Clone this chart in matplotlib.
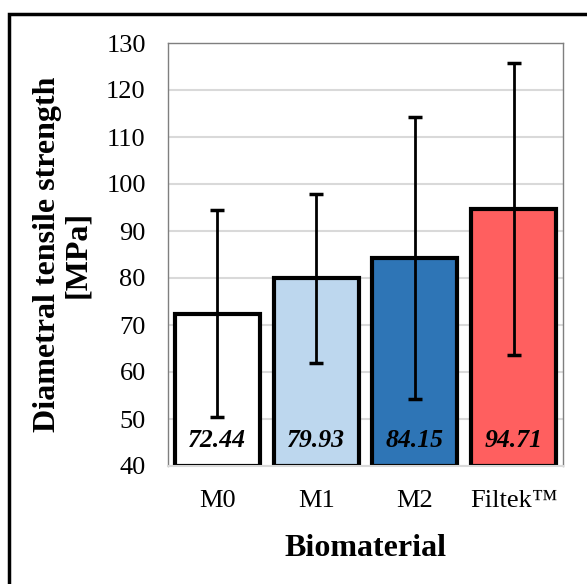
import numpy as np
import matplotlib
matplotlib.use("Agg")
import matplotlib.pyplot as plt
from matplotlib.patches import Rectangle

# data
materials = ["M0", "M1", "M2", "Filtek\u2122"]
means = [72.44, 79.93, 84.15, 94.71]
sds = [22.0, 18.0, 30.0, 31.0]
colors = ["#ffffff", "#bdd7ee", "#2e75b6", "#ff5f5f"]

plt.rcParams["font.family"] = ["Liberation Serif", "DejaVu Serif"]

fig = plt.figure(figsize=(5.87, 5.84), dpi=100)
ax = fig.add_axes([168 / 587, 1 - 466 / 584, (563 - 168) / 587, (466 - 43) / 584])

x = np.arange(len(materials))
ax.bar(x, [m - 40 for m in means], bottom=40, width=0.86, color=colors,
       edgecolor="black", linewidth=3, zorder=2)
ax.errorbar(x, means, yerr=sds, fmt="none", ecolor="black", elinewidth=2,
            capsize=5, capthick=2.5, zorder=3)

for xi, m in zip(x, means):
    ax.text(xi, 45.4, f"{m:.2f}", ha="center", va="center", fontsize=18.5,
            fontweight="bold", style="italic", zorder=4)

ax.set_xlim(-0.5, 3.5)
ax.set_ylim(40, 130)
ax.set_yticks(range(40, 131, 10))
ax.set_xticks(x)
ax.set_xticklabels(materials)
ax.tick_params(axis="both", length=0, labelsize=19)
ax.tick_params(axis="y", pad=16)
ax.tick_params(axis="x", pad=17)
ax.yaxis.grid(True, color="#d9d9d9", linewidth=1.5, zorder=0)
ax.set_axisbelow(True)
for s in ax.spines.values():
    s.set_color("#7f7f7f")
    s.set_linewidth(1)
ax.spines["bottom"].set_color("#d9d9d9")
ax.spines["bottom"].set_linewidth(1.5)

ax.set_ylabel("Diametral tensile strength\n[MPa]", fontsize=23,
              fontweight="bold", linespacing=1.05, labelpad=10)
ax.set_xlabel("Biomaterial", fontsize=23, fontweight="bold", labelpad=16)

# outer chart frame, cut off at the right and bottom edges
fig.patches.append(Rectangle((9 / 587, -0.05), 1.0, 1 - 14 / 584 + 0.05,
                             transform=fig.transFigure, fill=False,
                             edgecolor="black", linewidth=2.5))

fig.savefig("out.png", dpi=100)
